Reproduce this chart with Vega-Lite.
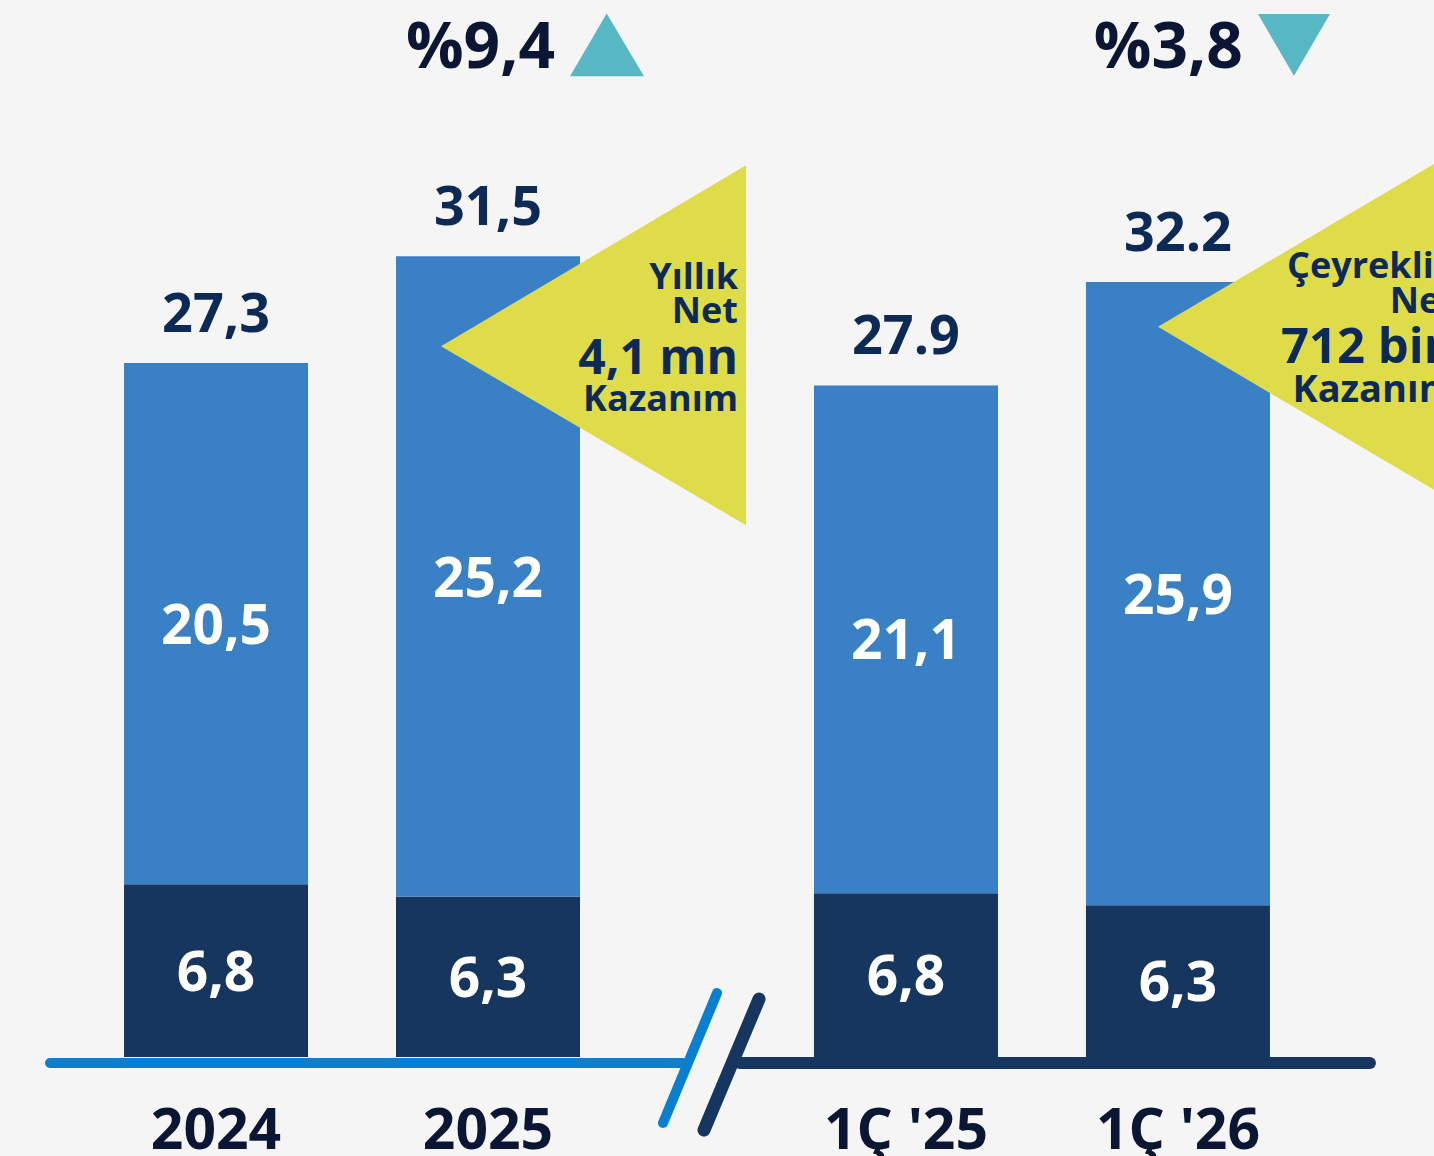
{
  "$schema": "https://vega.github.io/schema/vega-lite/v6.json",
  "width": 1434,
  "height": 1156,
  "padding": 0,
  "autosize": "none",
  "background": "#f5f5f5",
  "config": {
    "view": {"stroke": null},
    "text": {"font": "Open Sans", "fontWeight": "bold", "baseline": "alphabetic"}
  },
  "datasets": {
    "abone": [
      {"donem": "Yıllık", "sira": "önceki", "etiket": "2024", "segment": "Faturasız", "deger": 6.8, "yazi": "6,8"},
      {"donem": "Yıllık", "sira": "önceki", "etiket": "2024", "segment": "Faturalı", "deger": 20.5, "yazi": "20,5"},
      {"donem": "Yıllık", "sira": "güncel", "etiket": "2025", "segment": "Faturasız", "deger": 6.3, "yazi": "6,3"},
      {"donem": "Yıllık", "sira": "güncel", "etiket": "2025", "segment": "Faturalı", "deger": 25.2, "yazi": "25,2"},
      {"donem": "Çeyreklik", "sira": "önceki", "etiket": "1Ç '25", "segment": "Faturasız", "deger": 6.8, "yazi": "6,8"},
      {"donem": "Çeyreklik", "sira": "önceki", "etiket": "1Ç '25", "segment": "Faturalı", "deger": 21.1, "yazi": "21,1"},
      {"donem": "Çeyreklik", "sira": "güncel", "etiket": "1Ç '26", "segment": "Faturasız", "deger": 6.3, "yazi": "6,3"},
      {"donem": "Çeyreklik", "sira": "güncel", "etiket": "1Ç '26", "segment": "Faturalı", "deger": 25.9, "yazi": "25,9"}
    ],
    "toplam": [
      {"donem": "Yıllık", "sira": "önceki", "etiket": "2024", "toplam": 27.3, "yazi": "27,3"},
      {"donem": "Yıllık", "sira": "güncel", "etiket": "2025", "toplam": 31.5, "yazi": "31,5"},
      {"donem": "Çeyreklik", "sira": "önceki", "etiket": "1Ç '25", "toplam": 27.9, "yazi": "27.9"},
      {"donem": "Çeyreklik", "sira": "güncel", "etiket": "1Ç '26", "toplam": 32.2, "yazi": "32.2"}
    ],
    "degisim": [
      {"donem": "Yıllık", "sira": "güncel", "toplam": 31.5, "yuzde": "%9,4", "baslik": "Yıllık", "alt": "Net", "kazanim": "4,1 mn", "son": "Kazanım"},
      {"donem": "Çeyreklik", "sira": "güncel", "toplam": 32.2, "yuzde": "%3,8", "baslik": "Çeyreklik", "alt": "Net", "kazanim": "712 bin", "son": "Kazanım"}
    ]
  },
  "layer": [
    {
      "layer": [
        {
          "data": {"name": "abone"},
          "transform": [{"filter": "datum.donem === 'Yıllık'"}],
          "mark": {"type": "bar"},
          "encoding": {
            "x": {"field": "donem", "type": "nominal", "axis": null, "scale": {"domain": ["Yıllık", "Çeyreklik"], "paddingInner": 0.2116, "paddingOuter": 0.145, "align": 0.4}},
            "xOffset": {"field": "sira", "type": "nominal", "scale": {"domain": ["önceki", "güncel"], "paddingInner": 0.3235, "paddingOuter": 0.16175}},
            "y": {"field": "deger", "type": "quantitative", "stack": "zero", "axis": null, "scale": {"domain": [-3.895, 41.58], "nice": false, "zero": false}},
            "color": {"field": "segment", "type": "nominal", "legend": null, "scale": {"domain": ["Faturasız", "Faturalı"], "range": ["#16365f", "#3a80c4"]}},
            "order": {"field": "segment", "sort": "descending"}
          }
        },
        {
          "data": {"name": "degisim"},
          "transform": [{"filter": "datum.donem === 'Yıllık'"}],
          "mark": {"type": "point", "shape": "M-0.308,0.59L1.692,-0.597L1.692,1.764Z", "size": 93025, "filled": true, "color": "#dfdc49", "opacity": 1, "strokeWidth": 0},
          "encoding": {
            "x": {"field": "donem", "type": "nominal", "axis": null, "scale": {"domain": ["Yıllık", "Çeyreklik"], "paddingInner": 0.2116, "paddingOuter": 0.145, "align": 0.4}},
            "xOffset": {"field": "sira", "type": "nominal", "scale": {"domain": ["önceki", "güncel"], "paddingInner": 0.3235, "paddingOuter": 0.16175}},
            "y": {"field": "toplam", "type": "quantitative", "axis": null, "scale": {"domain": [-3.895, 41.58], "nice": false, "zero": false}}
          }
        },
        {
          "data": {"name": "degisim"},
          "transform": [{"filter": "datum.donem === 'Yıllık'"}],
          "mark": {"type": "point", "shape": "M3.208,-6.559L2.216,-4.865L4.216,-4.865Z", "size": 5476, "filled": true, "color": "#57b7c3", "opacity": 1, "strokeWidth": 0},
          "encoding": {
            "x": {"field": "donem", "type": "nominal", "axis": null, "scale": {"domain": ["Yıllık", "Çeyreklik"], "paddingInner": 0.2116, "paddingOuter": 0.145, "align": 0.4}},
            "xOffset": {"field": "sira", "type": "nominal", "scale": {"domain": ["önceki", "güncel"], "paddingInner": 0.3235, "paddingOuter": 0.16175}},
            "y": {"field": "toplam", "type": "quantitative", "axis": null, "scale": {"domain": [-3.895, 41.58], "nice": false, "zero": false}}
          }
        },
        {
          "data": {"name": "degisim"},
          "transform": [{"filter": "datum.donem === 'Yıllık'"}],
          "layer": [
            {"mark": {"type": "text", "fontSize": 64, "align": "right", "dx": 67, "dy": -188, "color": "#0a1633"}, "encoding": {"text": {"field": "yuzde"}}},
            {"mark": {"type": "text", "fontSize": 36, "align": "right", "dx": 250, "dy": 33, "color": "#0c2a55"}, "encoding": {"text": {"field": "baslik"}}},
            {"mark": {"type": "text", "fontSize": 36, "align": "right", "dx": 250, "dy": 67, "color": "#0c2a55"}, "encoding": {"text": {"field": "alt"}}},
            {"mark": {"type": "text", "fontSize": 48, "align": "right", "dx": 250, "dy": 118, "color": "#0c2a55"}, "encoding": {"text": {"field": "kazanim"}}},
            {"mark": {"type": "text", "fontSize": 36, "align": "right", "dx": 250, "dy": 155, "color": "#0c2a55"}, "encoding": {"text": {"field": "son"}}}
          ],
          "encoding": {
            "x": {"field": "donem", "type": "nominal", "axis": null, "scale": {"domain": ["Yıllık", "Çeyreklik"], "paddingInner": 0.2116, "paddingOuter": 0.145, "align": 0.4}},
            "xOffset": {"field": "sira", "type": "nominal", "scale": {"domain": ["önceki", "güncel"], "paddingInner": 0.3235, "paddingOuter": 0.16175}},
            "y": {"field": "toplam", "type": "quantitative", "axis": null, "scale": {"domain": [-3.895, 41.58], "nice": false, "zero": false}}
          }
        },
        {
          "data": {"name": "toplam"},
          "transform": [{"filter": "datum.donem === 'Yıllık'"}],
          "layer": [
            {
              "mark": {"type": "text", "fontSize": 54, "dy": -31, "color": "#0c2a55"},
              "encoding": {
                "y": {"field": "toplam", "type": "quantitative", "axis": null, "scale": {"domain": [-3.895, 41.58], "nice": false, "zero": false}},
                "text": {"field": "yazi"}
              }
            },
            {
              "mark": {"type": "text", "fontSize": 57, "dy": 92, "color": "#0a1633"},
              "encoding": {
                "y": {"datum": 0, "type": "quantitative", "axis": null, "scale": {"domain": [-3.895, 41.58], "nice": false, "zero": false}},
                "text": {"field": "etiket"}
              }
            }
          ],
          "encoding": {
            "x": {"field": "donem", "type": "nominal", "axis": null, "scale": {"domain": ["Yıllık", "Çeyreklik"], "paddingInner": 0.2116, "paddingOuter": 0.145, "align": 0.4}},
            "xOffset": {"field": "sira", "type": "nominal", "scale": {"domain": ["önceki", "güncel"], "paddingInner": 0.3235, "paddingOuter": 0.16175}}
          }
        },
        {
          "data": {"name": "abone"},
          "transform": [{"filter": "datum.donem === 'Yıllık'"}],
          "mark": {"type": "text", "fontSize": 55, "dy": 20, "color": "#ffffff"},
          "encoding": {
            "x": {"field": "donem", "type": "nominal", "axis": null, "scale": {"domain": ["Yıllık", "Çeyreklik"], "paddingInner": 0.2116, "paddingOuter": 0.145, "align": 0.4}},
            "xOffset": {"field": "sira", "type": "nominal", "scale": {"domain": ["önceki", "güncel"], "paddingInner": 0.3235, "paddingOuter": 0.16175}},
            "y": {"field": "deger", "type": "quantitative", "stack": "zero", "bandPosition": 0.5, "axis": null, "scale": {"domain": [-3.895, 41.58], "nice": false, "zero": false}},
            "detail": {"field": "segment"},
            "order": {"field": "segment", "sort": "descending"},
            "text": {"field": "yazi"}
          }
        }
      ]
    },
    {
      "layer": [
        {
          "data": {"name": "abone"},
          "transform": [{"filter": "datum.donem === 'Çeyreklik'"}],
          "mark": {"type": "bar"},
          "encoding": {
            "x": {"field": "donem", "type": "nominal", "axis": null, "scale": {"domain": ["Yıllık", "Çeyreklik"], "paddingInner": 0.2116, "paddingOuter": 0.145, "align": 0.4}},
            "xOffset": {"field": "sira", "type": "nominal", "scale": {"domain": ["önceki", "güncel"], "paddingInner": 0.3235, "paddingOuter": 0.16175}},
            "y": {"field": "deger", "type": "quantitative", "stack": "zero", "axis": null, "scale": {"domain": [-4.113, 43.91], "nice": false, "zero": false}},
            "color": {"field": "segment", "type": "nominal", "legend": null, "scale": {"domain": ["Faturasız", "Faturalı"], "range": ["#16365f", "#3a80c4"]}},
            "order": {"field": "segment", "sort": "descending"}
          }
        },
        {
          "data": {"name": "degisim"},
          "transform": [{"filter": "datum.donem === 'Çeyreklik'"}],
          "mark": {"type": "point", "shape": "M-0.131,0.295L1.869,-0.885L1.869,1.475Z", "size": 93025, "filled": true, "color": "#dfdc49", "opacity": 1, "strokeWidth": 0},
          "encoding": {
            "x": {"field": "donem", "type": "nominal", "axis": null, "scale": {"domain": ["Yıllık", "Çeyreklik"], "paddingInner": 0.2116, "paddingOuter": 0.145, "align": 0.4}},
            "xOffset": {"field": "sira", "type": "nominal", "scale": {"domain": ["önceki", "güncel"], "paddingInner": 0.3235, "paddingOuter": 0.16175}},
            "y": {"field": "toplam", "type": "quantitative", "axis": null, "scale": {"domain": [-4.113, 43.91], "nice": false, "zero": false}}
          }
        },
        {
          "data": {"name": "degisim"},
          "transform": [{"filter": "datum.donem === 'Çeyreklik'"}],
          "mark": {"type": "point", "shape": "M2.162,-7.243L4.108,-7.243L3.135,-5.568Z", "size": 5476, "filled": true, "color": "#57b7c3", "opacity": 1, "strokeWidth": 0},
          "encoding": {
            "x": {"field": "donem", "type": "nominal", "axis": null, "scale": {"domain": ["Yıllık", "Çeyreklik"], "paddingInner": 0.2116, "paddingOuter": 0.145, "align": 0.4}},
            "xOffset": {"field": "sira", "type": "nominal", "scale": {"domain": ["önceki", "güncel"], "paddingInner": 0.3235, "paddingOuter": 0.16175}},
            "y": {"field": "toplam", "type": "quantitative", "axis": null, "scale": {"domain": [-4.113, 43.91], "nice": false, "zero": false}}
          }
        },
        {
          "data": {"name": "degisim"},
          "transform": [{"filter": "datum.donem === 'Çeyreklik'"}],
          "layer": [
            {"mark": {"type": "text", "fontSize": 64, "align": "right", "dx": 65, "dy": -214, "color": "#0a1633"}, "encoding": {"text": {"field": "yuzde"}}},
            {"mark": {"type": "text", "fontSize": 36, "align": "right", "dx": 278, "dy": -4, "color": "#0c2a55"}, "encoding": {"text": {"field": "baslik"}}},
            {"mark": {"type": "text", "fontSize": 36, "align": "right", "dx": 278, "dy": 31, "color": "#0c2a55"}, "encoding": {"text": {"field": "alt"}}},
            {"mark": {"type": "text", "fontSize": 49, "align": "right", "dx": 278, "dy": 81, "color": "#0c2a55"}, "encoding": {"text": {"field": "kazanim"}}},
            {"mark": {"type": "text", "fontSize": 38, "align": "right", "dx": 278, "dy": 120, "color": "#0c2a55"}, "encoding": {"text": {"field": "son"}}}
          ],
          "encoding": {
            "x": {"field": "donem", "type": "nominal", "axis": null, "scale": {"domain": ["Yıllık", "Çeyreklik"], "paddingInner": 0.2116, "paddingOuter": 0.145, "align": 0.4}},
            "xOffset": {"field": "sira", "type": "nominal", "scale": {"domain": ["önceki", "güncel"], "paddingInner": 0.3235, "paddingOuter": 0.16175}},
            "y": {"field": "toplam", "type": "quantitative", "axis": null, "scale": {"domain": [-4.113, 43.91], "nice": false, "zero": false}}
          }
        },
        {
          "data": {"name": "toplam"},
          "transform": [{"filter": "datum.donem === 'Çeyreklik'"}],
          "layer": [
            {
              "mark": {"type": "text", "fontSize": 54, "dy": -31, "color": "#0c2a55"},
              "encoding": {
                "y": {"field": "toplam", "type": "quantitative", "axis": null, "scale": {"domain": [-4.113, 43.91], "nice": false, "zero": false}},
                "text": {"field": "yazi"}
              }
            },
            {
              "mark": {"type": "text", "fontSize": 57, "dy": 92, "color": "#0a1633"},
              "encoding": {
                "y": {"datum": 0, "type": "quantitative", "axis": null, "scale": {"domain": [-4.113, 43.91], "nice": false, "zero": false}},
                "text": {"field": "etiket"}
              }
            }
          ],
          "encoding": {
            "x": {"field": "donem", "type": "nominal", "axis": null, "scale": {"domain": ["Yıllık", "Çeyreklik"], "paddingInner": 0.2116, "paddingOuter": 0.145, "align": 0.4}},
            "xOffset": {"field": "sira", "type": "nominal", "scale": {"domain": ["önceki", "güncel"], "paddingInner": 0.3235, "paddingOuter": 0.16175}}
          }
        },
        {
          "data": {"name": "abone"},
          "transform": [{"filter": "datum.donem === 'Çeyreklik'"}],
          "mark": {"type": "text", "fontSize": 55, "dy": 20, "color": "#ffffff"},
          "encoding": {
            "x": {"field": "donem", "type": "nominal", "axis": null, "scale": {"domain": ["Yıllık", "Çeyreklik"], "paddingInner": 0.2116, "paddingOuter": 0.145, "align": 0.4}},
            "xOffset": {"field": "sira", "type": "nominal", "scale": {"domain": ["önceki", "güncel"], "paddingInner": 0.3235, "paddingOuter": 0.16175}},
            "y": {"field": "deger", "type": "quantitative", "stack": "zero", "bandPosition": 0.5, "axis": null, "scale": {"domain": [-4.113, 43.91], "nice": false, "zero": false}},
            "detail": {"field": "segment"},
            "order": {"field": "segment", "sort": "descending"},
            "text": {"field": "yazi"}
          }
        },
        {
          "data": {"values": [{}]},
          "layer": [
            {
              "mark": {"type": "rule", "color": "#0a7fd0", "strokeWidth": 10, "strokeCap": "round", "xOffset": -302, "x2Offset": 331, "yOffset": 6},
              "encoding": {
                "x": {"datum": "Yıllık", "type": "nominal", "bandPosition": 0.5, "axis": null, "scale": {"domain": ["Yıllık", "Çeyreklik"], "paddingInner": 0.2116, "paddingOuter": 0.145, "align": 0.4}},
                "x2": {"datum": "Yıllık", "bandPosition": 0.5},
                "y": {"datum": 0, "type": "quantitative", "axis": null, "scale": {"domain": [-4.113, 43.91], "nice": false, "zero": false}}
              }
            },
            {
              "mark": {"type": "rule", "color": "#16365f", "strokeWidth": 12, "strokeCap": "round", "xOffset": -302, "x2Offset": 328, "yOffset": 6},
              "encoding": {
                "x": {"datum": "Çeyreklik", "type": "nominal", "bandPosition": 0.5, "axis": null, "scale": {"domain": ["Yıllık", "Çeyreklik"], "paddingInner": 0.2116, "paddingOuter": 0.145, "align": 0.4}},
                "x2": {"datum": "Çeyreklik", "bandPosition": 0.5},
                "y": {"datum": 0, "type": "quantitative", "axis": null, "scale": {"domain": [-4.113, 43.91], "nice": false, "zero": false}}
              }
            },
            {
              "mark": {"type": "rule", "color": "#0a7fd0", "strokeWidth": 10, "strokeCap": "round", "xOffset": 311, "x2Offset": 365, "yOffset": 66, "y2Offset": -64},
              "encoding": {
                "x": {"datum": "Yıllık", "type": "nominal", "bandPosition": 0.5, "axis": null, "scale": {"domain": ["Yıllık", "Çeyreklik"], "paddingInner": 0.2116, "paddingOuter": 0.145, "align": 0.4}},
                "x2": {"datum": "Yıllık", "bandPosition": 0.5},
                "y": {"datum": 0, "type": "quantitative", "axis": null, "scale": {"domain": [-4.113, 43.91], "nice": false, "zero": false}},
                "y2": {"datum": 0}
              }
            },
            {
              "mark": {"type": "rule", "color": "#16365f", "strokeWidth": 13, "strokeCap": "round", "xOffset": 352, "x2Offset": 407, "yOffset": 73, "y2Offset": -58},
              "encoding": {
                "x": {"datum": "Yıllık", "type": "nominal", "bandPosition": 0.5, "axis": null, "scale": {"domain": ["Yıllık", "Çeyreklik"], "paddingInner": 0.2116, "paddingOuter": 0.145, "align": 0.4}},
                "x2": {"datum": "Yıllık", "bandPosition": 0.5},
                "y": {"datum": 0, "type": "quantitative", "axis": null, "scale": {"domain": [-4.113, 43.91], "nice": false, "zero": false}},
                "y2": {"datum": 0}
              }
            }
          ]
        }
      ]
    }
  ],
  "resolve": {"scale": {"y": "independent"}}
}
